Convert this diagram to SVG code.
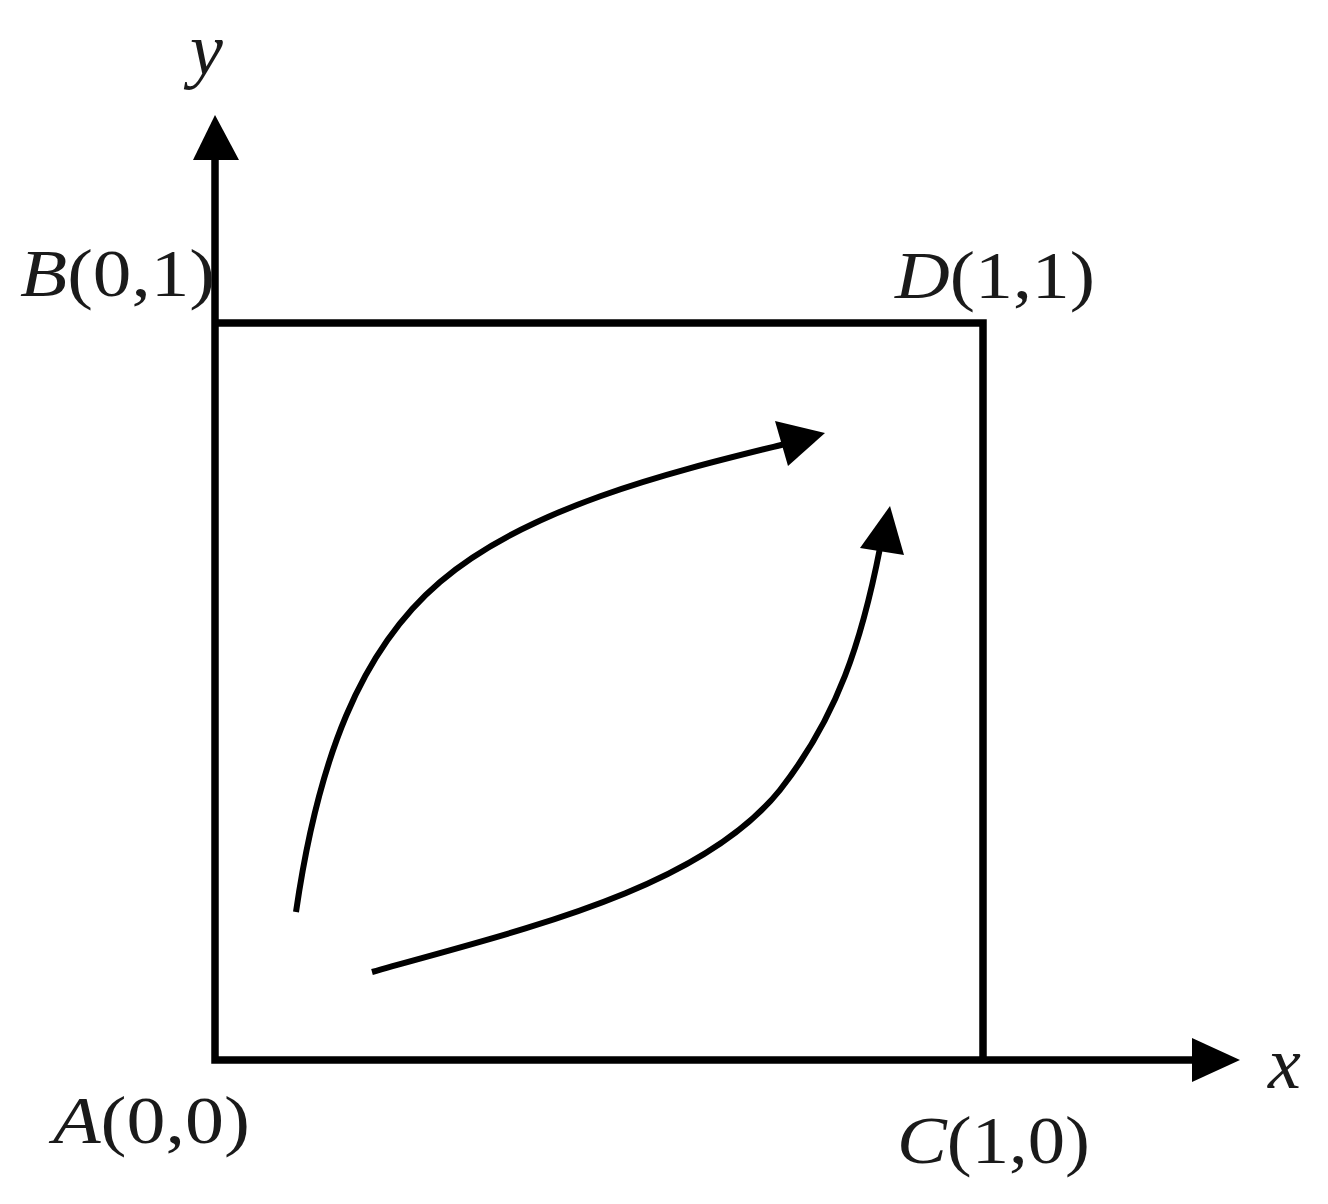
<svg xmlns="http://www.w3.org/2000/svg" width="1328" height="1204" viewBox="0 0 1328 1204">
<style>
.ln{fill:none;stroke:#000;stroke-width:7.5;stroke-linejoin:miter}
.cv{fill:none;stroke:#000;stroke-width:6;stroke-linecap:butt}
.hd{fill:#000}
.lb{font-family:"Liberation Serif","DejaVu Serif",serif;font-size:68px;fill:#1a1a1a}
.ax{font-size:74px}
.it{font-style:italic}
</style>
<rect width="1328" height="1204" fill="#fff"/>
<g id="connectors">
<path class="ln" d="M215,158 L215,1060 L1195,1060"/>
<polygon class="hd" points="215,115 193,160 239,160"/>
<polygon class="hd" points="1240,1060 1192,1038 1192,1082"/>
<path class="cv" d="M296,912 C318,760 360,650 440,582 C530,505 680,470 785,444"/>
<polygon class="hd" points="825,433 775,421 788,466"/>
<path class="cv" d="M372,972 C520,930 700,890 780,790 C838,716 862,640 880,548"/>
<polygon class="hd" points="890,506 860,548 904,555"/>
</g>
<g id="box"><path class="ln" d="M215,323 L983,323 L983,1060"/></g>
<g id="label-y"><text class="lb ax it" x="190" y="74">y</text></g>
<g id="label-x"><text class="lb ax it" x="1268" y="1088">x</text></g>
<g id="node-B"><text class="lb" x="20" y="296" textLength="195" lengthAdjust="spacingAndGlyphs"><tspan class="it">B</tspan>(0,1)</text></g>
<g id="node-D"><text class="lb" x="895" y="298" textLength="200" lengthAdjust="spacingAndGlyphs"><tspan class="it">D</tspan>(1,1)</text></g>
<g id="node-A"><text class="lb" x="53" y="1143" textLength="197" lengthAdjust="spacingAndGlyphs"><tspan class="it">A</tspan>(0,0)</text></g>
<g id="node-C"><text class="lb" x="897" y="1163" textLength="193" lengthAdjust="spacingAndGlyphs"><tspan class="it">C</tspan>(1,0)</text></g>
</svg>
